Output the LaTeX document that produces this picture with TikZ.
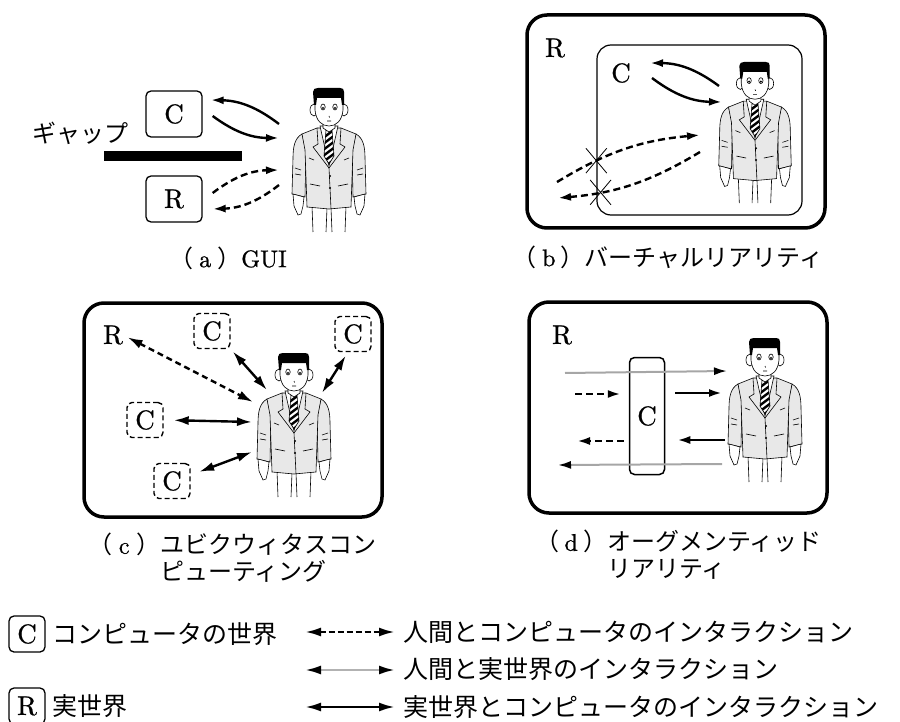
\documentclass[tikz,border=0pt]{standalone}
\usepackage{fontspec}
\setmainfont{lmroman10-regular}[Extension=.otf, FakeBold=0.8]
\newfontfamily\jpfont{Noto Sans CJK JP}
\usetikzlibrary{arrows.meta,positioning,shapes.misc}

\begin{document}
\begin{tikzpicture}[
  x=1pt,
  y=-1pt,
  letter/.style={
    font=\fontsize{27}{27}\selectfont,
    inner sep=0pt
  },
  cbox/.style={
    draw,
    letter,
    line width=1.3pt,
    rounded corners=5pt,
    minimum width=56pt,
    minimum height=46pt
  },
  dbox/.style={
    cbox,
    line width=1.4pt,
    dash pattern=on 5pt off 3pt,
    minimum width=36pt,
    minimum height=35pt
  },
  frame/.style={
    draw,
    line width=3.5pt,
    rounded corners=20pt
  },
  innerframe/.style={
    draw,
    line width=1.2pt,
    rounded corners=14pt
  },
  solidarrow/.style={
    line width=2.4pt,
    -{Latex[length=13pt,width=8pt]}
  },
  dasharrow/.style={
    solidarrow,
    dash pattern=on 7pt off 4pt
  },
  grayarrow/.style={
    draw=black!35,
    line width=2pt,
    -{Latex[length=13pt,width=8pt,color=black]}
  },
  bothsolid/.style={
    line width=2.4pt,
    {Latex[length=15pt,width=9pt]}-{Latex[length=15pt,width=9pt]}
  },
  bothdashed/.style={
    bothsolid,
    dash pattern=on 6pt off 4pt
  },
  caption/.style={
    font=\jpfont\fontsize{24}{27}\selectfont,
    inner sep=0pt
  },
  legtext/.style={
    font=\jpfont\fontsize{25}{25}\selectfont,
    inner sep=0pt,
    anchor=west
  },
  legbox/.style={
    cbox,
    line width=1.3pt,
    minimum width=36pt,
    minimum height=36pt
  },
  legarrow/.style={
    line width=2.6pt,
    {Latex[length=16pt,width=9pt]}-{Latex[length=16pt,width=9pt]}
  },
  jacket/.style={
    draw,
    line width=0.6pt,
    fill=black!9
  },
  skin/.style={
    draw,
    line width=0.6pt,
    fill=white
  },
  personline/.style={
    line width=0.6pt
  },
  crossmark/.style={
    draw,
    cross out,
    line width=0.8pt,
    minimum width=20pt,
    minimum height=24pt,
    inner sep=0pt
  }
]

\useasboundingbox (0,0) rectangle (900,722);

\newcommand{\drawperson}[3]{%
  \begin{scope}[shift={(#1,#2)}, scale=#3]
    \draw[personline] (-17,118) -- (-16,144) (-2,120) -- (-3,144)
      (2,120) -- (3,144) (17,118) -- (16,144);
    \filldraw[jacket] (-27,46) .. controls (-34,50) and (-36,58) .. (-36,70)
      -- (-37,106) -- (-24,109) -- (-23,62) -- cycle;
    \filldraw[jacket] (27,46) .. controls (34,50) and (36,58) .. (36,70)
      -- (37,106) -- (24,109) -- (23,62) -- cycle;
    \filldraw[skin] (-36,106) -- (-35,118) -- (-31,127) -- (-28,126)
      -- (-26,118) -- (-25,109) -- cycle;
    \filldraw[skin] (36,106) -- (35,118) -- (31,127) -- (28,126)
      -- (26,118) -- (25,109) -- cycle;
    \filldraw[jacket] (-12,40) -- (-27,46) -- (-24,62) -- (-22,119) -- (0,121)
      -- (22,119) -- (24,62) -- (27,46) -- (12,40) -- cycle;
    \filldraw[skin] (-9,38) -- (0,78) -- (9,38) -- cycle;
    \begin{scope}
      \clip (-3,42) -- (3,42) -- (5,68) -- (0,76) -- (-5,68) -- cycle;
      \fill[white] (-6,40) rectangle (6,78);
      \foreach \s in {44,50,...,86} {
        \draw[line width=2.4pt] (-6,\s) -- (6,\s-9);
      }
    \end{scope}
    \draw[personline] (-3,42) -- (3,42) -- (5,68) -- (0,76) -- (-5,68) -- cycle;
    \draw[personline] (-12,40) -- (-11,56) -- (-16,59) -- (0,80)
      (12,40) -- (11,56) -- (16,59) -- (0,80) -- (1,100) -- (2,121);
    \fill (1,88) circle (1.1) (1,100) circle (1.1);
    \draw[personline] (-19,96) -- (-9,98) (9,98) -- (19,96)
      (-34,80) -- (-28,82) (-34,86) -- (-28,87) (28,82) -- (34,80) (28,87) -- (34,86)
      (-20,70) -- (-15,72) (15,72) -- (20,70);
    \filldraw[skin] (-6,32) -- (-6,40) -- (0,44) -- (6,40) -- (6,32) -- cycle;
    \filldraw[skin] (-15,22) ellipse (4 and 6);
    \filldraw[skin] (15,22) ellipse (4 and 6);
    \filldraw[skin] (-14,8) -- (-14,22) .. controls (-13,33) and (-7,38) .. (0,38)
      .. controls (7,38) and (13,33) .. (14,22) -- (14,8) -- cycle;
    \fill (-15,17) -- (-16,4) .. controls (-16,1) and (-14,0) .. (-11,0) -- (11,0)
      .. controls (14,0) and (15,1) .. (15,4) -- (15,17) -- (13,17) -- (12,10)
      -- (-12,10) -- (-13,17) -- cycle;
    \draw[personline] (-6,19) ellipse (2.2 and 3) (6,19) ellipse (2.2 and 3);
    \fill (-6,20) circle (1.2) (6,20) circle (1.2);
    \draw[personline] (0,28) -- (0.6,29.5) (-2,33) -- (2,33);
  \end{scope}}

\newcommand{\panelmark}[1]{（\makebox[1em]{\rmfamily #1}）}

% (a)
\node[cbox] (cA) at (174,114) {C};
\node[cbox] (rA) at (174,199) {R};
\node[fill, minimum width=138pt, minimum height=10pt, inner sep=0pt] (gapbar) at (173,156) {};
\node[caption] (gaplabel) at (80,133) {ギャップ};
\drawperson{329}{88}{1}
\coordinate (pa1) at (279,124);
\coordinate (pa2) at (279,138);
\coordinate (pa3) at (279,170);
\coordinate (pa4) at (279,185);
\draw[solidarrow] (pa1) to[bend right=18] ([xshift=8pt,yshift=14pt]cA.east);
\draw[solidarrow] ([xshift=10pt,yshift=-2pt]cA.east) to[bend right=18] (pa2);
\draw[dasharrow] ([xshift=10pt,yshift=6pt]rA.east) to[bend left=18] (pa3);
\draw[dasharrow] (pa4) to[bend left=18] ([xshift=10pt,yshift=-10pt]rA.east);
\node[caption] (capA) at (228,258) {\panelmark{a}{\rmfamily GUI}};

% (b)
\draw[frame] (527,15) rectangle (825,228);
\draw[innerframe] (597,45) rectangle (802,215);
\node[letter] (rB) at (555,48) {R};
\node[letter] (cB) at (621,73) {C};
\drawperson{755}{62}{0.98}
\coordinate (pb1) at (719,86);
\coordinate (pb2) at (650,63);
\coordinate (pb3) at (652,78);
\coordinate (pb4) at (722,102);
\coordinate (pb5) at (557,182);
\coordinate (pb6) at (700,135);
\coordinate (pb7) at (700,152);
\coordinate (pb8) at (558,198);
\draw[solidarrow] (pb1) to[bend right=18] (pb2);
\draw[solidarrow] (pb3) to[bend right=18] (pb4);
\draw[dasharrow] (pb5) to[bend left=13] coordinate[pos=0.28] (xb1) (pb6);
\draw[dasharrow] (pb7) to[bend left=13] coordinate[pos=0.73] (xb2) (pb8);
\node[crossmark] (crossB1) at (xb1) {};
\node[crossmark] (crossB2) at (xb2) {};
\node[caption] (capB) at (668,257) {\panelmark{b}バーチャルリアリティ};

% (c)
\draw[frame] (84,303) rectangle (382,517);
\node[letter] (rC) at (113,335) {R};
\node[dbox] (dC1) at (212,331) {C};
\node[dbox] (dC2) at (353,334) {C};
\node[dbox] (dC3) at (145,420) {C};
\node[dbox] (dC4) at (172,481) {C};
\drawperson{294}{353}{1}
\coordinate (pc0) at (253,402);
\coordinate (pc1) at (267,390);
\coordinate (pc2) at (322,393);
\coordinate (pc3) at (252,422);
\coordinate (pc4) at (252,452);
\draw[bothdashed, shorten <=5pt] (rC.east) -- (pc0);
\draw[bothsolid, shorten <=3pt] (dC1.south east) -- (pc1);
\draw[bothsolid, shorten <=4pt] ([xshift=-5pt]dC2.south) -- (pc2);
\draw[bothsolid, shorten <=10pt] (dC3.east) -- (pc3);
\draw[bothsolid, shorten <=9pt] ([yshift=6pt]dC4.east) -- (pc4);
\node[caption, align=left, anchor=north west] (capC) at (88,533)
  {\panelmark{c}ユビクウィタスコン\\\phantom{\panelmark{c}}ピューティング};

% (d)
\draw[frame] (529,302) rectangle (827,513);
\node[letter] (rD) at (562,335) {R};
\node[draw, letter, line width=1.5pt, rounded corners=5pt, minimum width=35pt,
  minimum height=117pt] (cD) at (647,416) {C};
\drawperson{765}{338}{1}
\coordinate (gd1) at (565,373);
\coordinate (gd2) at (727,371);
\coordinate (gd3) at (722,464);
\coordinate (gd4) at (558,465);
\coordinate (pd1) at (575,394);
\coordinate (pd2) at (722,393);
\coordinate (pd3) at (577,441);
\coordinate (pd4) at (725,440);
\draw[grayarrow] (gd1) -- (gd2);
\draw[dasharrow, shorten >=8pt] (pd1) -- (pd1 -| cD.west);
\draw[solidarrow, shorten <=10pt] (pd2 -| cD.east) -- (pd2);
\draw[dasharrow, shorten <=5pt] (pd3 -| cD.west) -- (pd3);
\draw[solidarrow, shorten >=12pt] (pd4) -- (pd4 -| cD.east);
\draw[grayarrow] (gd3) -- (gd4);
\node[caption, align=left, anchor=north west] (capD) at (535,530)
  {\panelmark{d}オーグメンティッド\\\phantom{\panelmark{d}}リアリティ};

% legend
\node[legbox] (legC) at (27,634) {C};
\node[legtext] (legCtext) at (52,634) {コンピュータの世界};
\node[legbox] (legR) at (27,706) {R};
\node[legtext] (legRtext) at (52,706) {実世界};
\coordinate (la1) at (305,632);
\coordinate (la2) at (395,632);
\coordinate (lb1) at (305,670);
\coordinate (lb2) at (395,670);
\coordinate (lc1) at (305,707);
\coordinate (lc2) at (395,707);
\draw[legarrow, dash pattern=on 6pt off 3pt] (la1) -- (la2);
\draw[legarrow, draw=black!30, {Latex[length=16pt,width=9pt,color=black]}-{Latex[length=16pt,width=9pt,color=black]}] (lb1) -- (lb2);
\draw[legarrow] (lc1) -- (lc2);
\node[legtext] (legHC) at (403,632) {人間とコンピュータのインタラクション};
\node[legtext] (legHR) at (403,669) {人間と実世界のインタラクション};
\node[legtext] (legRC) at (403,707) {実世界とコンピュータのインタラクション};

\end{tikzpicture}
\end{document}
